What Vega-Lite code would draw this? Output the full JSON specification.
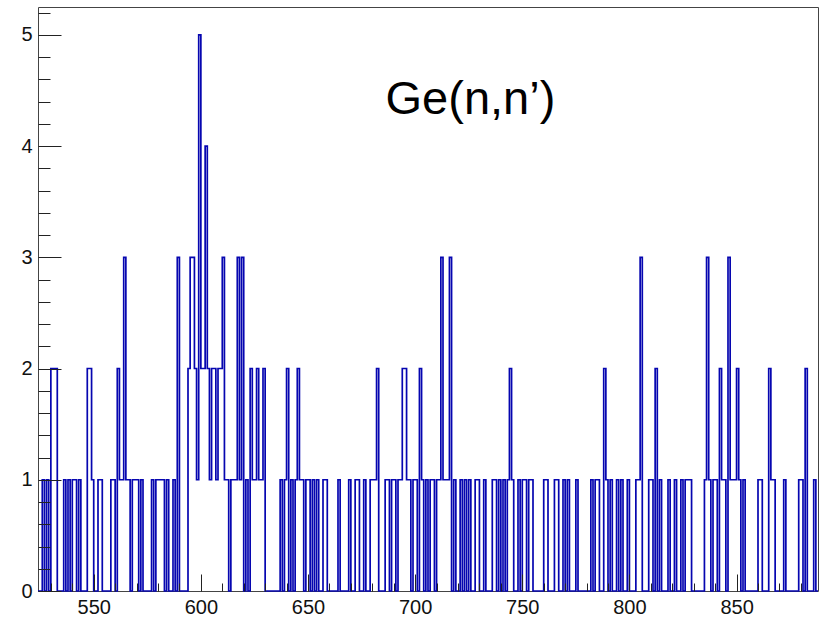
{
  "$schema": "https://vega.github.io/schema/vega-lite/v6.json",
  "width": 780,
  "height": 584,
  "autosize": {"type": "none"},
  "padding": {"left": 38, "top": 7, "right": 6, "bottom": 26},
  "background": "white",
  "config": {"view": {"stroke": "#444", "strokeWidth": 1}},
  "datasets": {
    "hist": [
      {"b":524,"c":0},{"b":525,"c":0},{"b":526,"c":1},{"b":527,"c":0},{"b":528,"c":1},{"b":529,"c":0},{"b":530,"c":2},{"b":531,"c":2},{"b":532,"c":2},{"b":533,"c":0},
      {"b":534,"c":0},{"b":535,"c":0},{"b":536,"c":1},{"b":537,"c":0},{"b":538,"c":1},{"b":539,"c":0},{"b":540,"c":1},{"b":541,"c":1},{"b":542,"c":0},{"b":543,"c":1},
      {"b":544,"c":0},{"b":545,"c":0},{"b":546,"c":0},{"b":547,"c":2},{"b":548,"c":2},{"b":549,"c":1},{"b":550,"c":0},{"b":551,"c":0},{"b":552,"c":1},{"b":553,"c":1},
      {"b":554,"c":0},{"b":555,"c":0},{"b":556,"c":0},{"b":557,"c":0},{"b":558,"c":1},{"b":559,"c":1},{"b":560,"c":0},{"b":561,"c":2},{"b":562,"c":1},{"b":563,"c":1},
      {"b":564,"c":3},{"b":565,"c":1},{"b":566,"c":1},{"b":567,"c":0},{"b":568,"c":1},{"b":569,"c":1},{"b":570,"c":1},{"b":571,"c":0},{"b":572,"c":1},{"b":573,"c":0},
      {"b":574,"c":0},{"b":575,"c":0},{"b":576,"c":0},{"b":577,"c":1},{"b":578,"c":0},{"b":579,"c":1},{"b":580,"c":1},{"b":581,"c":1},{"b":582,"c":1},{"b":583,"c":0},
      {"b":584,"c":1},{"b":585,"c":0},{"b":586,"c":0},{"b":587,"c":1},{"b":588,"c":0},{"b":589,"c":3},{"b":590,"c":0},{"b":591,"c":0},{"b":592,"c":0},{"b":593,"c":0},
      {"b":594,"c":2},{"b":595,"c":3},{"b":596,"c":3},{"b":597,"c":2},{"b":598,"c":1},{"b":599,"c":5},{"b":600,"c":2},{"b":601,"c":2},{"b":602,"c":4},{"b":603,"c":2},
      {"b":604,"c":1},{"b":605,"c":2},{"b":606,"c":2},{"b":607,"c":1},{"b":608,"c":2},{"b":609,"c":2},{"b":610,"c":3},{"b":611,"c":1},{"b":612,"c":1},{"b":613,"c":0},
      {"b":614,"c":1},{"b":615,"c":1},{"b":616,"c":1},{"b":617,"c":3},{"b":618,"c":1},{"b":619,"c":3},{"b":620,"c":0},{"b":621,"c":1},{"b":622,"c":0},{"b":623,"c":2},
      {"b":624,"c":1},{"b":625,"c":1},{"b":626,"c":2},{"b":627,"c":1},{"b":628,"c":1},{"b":629,"c":2},{"b":630,"c":0},{"b":631,"c":0},{"b":632,"c":0},{"b":633,"c":0},
      {"b":634,"c":0},{"b":635,"c":0},{"b":636,"c":0},{"b":637,"c":1},{"b":638,"c":0},{"b":639,"c":1},{"b":640,"c":2},{"b":641,"c":0},{"b":642,"c":1},{"b":643,"c":0},
      {"b":644,"c":1},{"b":645,"c":2},{"b":646,"c":1},{"b":647,"c":1},{"b":648,"c":0},{"b":649,"c":1},{"b":650,"c":1},{"b":651,"c":0},{"b":652,"c":1},{"b":653,"c":0},
      {"b":654,"c":1},{"b":655,"c":0},{"b":656,"c":0},{"b":657,"c":1},{"b":658,"c":1},{"b":659,"c":0},{"b":660,"c":0},{"b":661,"c":0},{"b":662,"c":0},{"b":663,"c":0},
      {"b":664,"c":1},{"b":665,"c":0},{"b":666,"c":0},{"b":667,"c":0},{"b":668,"c":0},{"b":669,"c":1},{"b":670,"c":0},{"b":671,"c":0},{"b":672,"c":1},{"b":673,"c":1},
      {"b":674,"c":0},{"b":675,"c":0},{"b":676,"c":1},{"b":677,"c":0},{"b":678,"c":0},{"b":679,"c":1},{"b":680,"c":1},{"b":681,"c":1},{"b":682,"c":2},{"b":683,"c":0},
      {"b":684,"c":0},{"b":685,"c":0},{"b":686,"c":1},{"b":687,"c":1},{"b":688,"c":0},{"b":689,"c":1},{"b":690,"c":1},{"b":691,"c":0},{"b":692,"c":1},{"b":693,"c":1},
      {"b":694,"c":2},{"b":695,"c":2},{"b":696,"c":1},{"b":697,"c":1},{"b":698,"c":0},{"b":699,"c":1},{"b":700,"c":1},{"b":701,"c":0},{"b":702,"c":2},{"b":703,"c":1},
      {"b":704,"c":0},{"b":705,"c":1},{"b":706,"c":0},{"b":707,"c":1},{"b":708,"c":1},{"b":709,"c":0},{"b":710,"c":1},{"b":711,"c":1},{"b":712,"c":3},{"b":713,"c":1},
      {"b":714,"c":1},{"b":715,"c":1},{"b":716,"c":3},{"b":717,"c":0},{"b":718,"c":1},{"b":719,"c":0},{"b":720,"c":0},{"b":721,"c":1},{"b":722,"c":0},{"b":723,"c":1},
      {"b":724,"c":0},{"b":725,"c":1},{"b":726,"c":0},{"b":727,"c":0},{"b":728,"c":1},{"b":729,"c":1},{"b":730,"c":0},{"b":731,"c":0},{"b":732,"c":1},{"b":733,"c":0},
      {"b":734,"c":0},{"b":735,"c":0},{"b":736,"c":1},{"b":737,"c":1},{"b":738,"c":0},{"b":739,"c":1},{"b":740,"c":0},{"b":741,"c":1},{"b":742,"c":0},{"b":743,"c":1},
      {"b":744,"c":2},{"b":745,"c":1},{"b":746,"c":0},{"b":747,"c":0},{"b":748,"c":1},{"b":749,"c":0},{"b":750,"c":1},{"b":751,"c":1},{"b":752,"c":0},{"b":753,"c":1},
      {"b":754,"c":1},{"b":755,"c":0},{"b":756,"c":0},{"b":757,"c":0},{"b":758,"c":0},{"b":759,"c":0},{"b":760,"c":1},{"b":761,"c":1},{"b":762,"c":0},{"b":763,"c":0},
      {"b":764,"c":0},{"b":765,"c":1},{"b":766,"c":1},{"b":767,"c":0},{"b":768,"c":0},{"b":769,"c":1},{"b":770,"c":0},{"b":771,"c":1},{"b":772,"c":0},{"b":773,"c":0},
      {"b":774,"c":0},{"b":775,"c":1},{"b":776,"c":0},{"b":777,"c":0},{"b":778,"c":0},{"b":779,"c":0},{"b":780,"c":0},{"b":781,"c":0},{"b":782,"c":1},{"b":783,"c":0},
      {"b":784,"c":1},{"b":785,"c":1},{"b":786,"c":0},{"b":787,"c":0},{"b":788,"c":2},{"b":789,"c":1},{"b":790,"c":0},{"b":791,"c":1},{"b":792,"c":0},{"b":793,"c":0},
      {"b":794,"c":1},{"b":795,"c":0},{"b":796,"c":1},{"b":797,"c":0},{"b":798,"c":0},{"b":799,"c":1},{"b":800,"c":0},{"b":801,"c":0},{"b":802,"c":0},{"b":803,"c":1},
      {"b":804,"c":1},{"b":805,"c":3},{"b":806,"c":0},{"b":807,"c":0},{"b":808,"c":0},{"b":809,"c":1},{"b":810,"c":1},{"b":811,"c":0},{"b":812,"c":2},{"b":813,"c":0},
      {"b":814,"c":1},{"b":815,"c":0},{"b":816,"c":0},{"b":817,"c":0},{"b":818,"c":1},{"b":819,"c":0},{"b":820,"c":0},{"b":821,"c":1},{"b":822,"c":0},{"b":823,"c":0},
      {"b":824,"c":1},{"b":825,"c":0},{"b":826,"c":1},{"b":827,"c":1},{"b":828,"c":1},{"b":829,"c":0},{"b":830,"c":0},{"b":831,"c":0},{"b":832,"c":0},{"b":833,"c":0},
      {"b":834,"c":0},{"b":835,"c":1},{"b":836,"c":3},{"b":837,"c":1},{"b":838,"c":0},{"b":839,"c":1},{"b":840,"c":1},{"b":841,"c":0},{"b":842,"c":2},{"b":843,"c":1},
      {"b":844,"c":1},{"b":845,"c":0},{"b":846,"c":3},{"b":847,"c":1},{"b":848,"c":1},{"b":849,"c":1},{"b":850,"c":2},{"b":851,"c":1},{"b":852,"c":0},{"b":853,"c":1},
      {"b":854,"c":0},{"b":855,"c":0},{"b":856,"c":0},{"b":857,"c":0},{"b":858,"c":0},{"b":859,"c":0},{"b":860,"c":1},{"b":861,"c":1},{"b":862,"c":0},{"b":863,"c":0},
      {"b":864,"c":0},{"b":865,"c":2},{"b":866,"c":1},{"b":867,"c":1},{"b":868,"c":0},{"b":869,"c":0},{"b":870,"c":0},{"b":871,"c":0},{"b":872,"c":1},{"b":873,"c":0},
      {"b":874,"c":0},{"b":875,"c":0},{"b":876,"c":0},{"b":877,"c":0},{"b":878,"c":0},{"b":879,"c":1},{"b":880,"c":1},{"b":881,"c":0},{"b":882,"c":2},{"b":883,"c":0},
      {"b":884,"c":0},{"b":885,"c":0},{"b":886,"c":1},{"b":887,"c":0},{"b":888,"c":0}
    ],
    "label": [{"t": "Ge(n,n’)", "x": 725.8, "y": 4.41}]
  },
  "resolve": {"axis": {"x": "independent", "y": "independent"}},
  "layer": [
    {
      "data": {"name": "hist"},
      "mark": {"type": "line", "interpolate": "step-after", "color": "#0606b0", "strokeWidth": 1.7},
      "encoding": {
        "x": {
          "field": "b", "type": "quantitative",
          "scale": {"domain": [524, 888], "nice": false, "zero": false},
          "axis": {"orient": "bottom", "values": [550, 600, 650, 700, 750, 800, 850], "tickSize": -17, "labelPadding": 23,
                   "labelFontSize": 20, "labelFont": "Liberation Sans", "labelColor": "#111", "domain": false, "grid": false,
                   "tickColor": "#222", "title": null, "labelFlush": false, "labelOverlap": false, "zindex": 1}
        },
        "y": {
          "field": "c", "type": "quantitative",
          "scale": {"domain": [0, 5.25], "nice": false},
          "axis": {"orient": "left", "values": [0, 1, 2, 3, 4, 5], "tickSize": -23, "labelPadding": 29,
                   "labelFontSize": 20, "labelFont": "Liberation Sans", "labelColor": "#111", "domain": false, "grid": false,
                   "tickColor": "#222", "title": null, "labelFlush": false, "labelOverlap": false, "zindex": 1}
        }
      }
    },
    {
      "data": {"name": "label"},
      "mark": {"type": "text", "font": "Liberation Sans", "fontSize": 47, "align": "center", "baseline": "middle", "color": "#000"},
      "encoding": {
        "text": {"field": "t"},
        "x": {
          "field": "x", "type": "quantitative",
          "scale": {"domain": [524, 888], "nice": false, "zero": false},
          "axis": {"orient": "bottom", "values": [530, 540, 560, 570, 580, 590, 610, 620, 630, 640, 660, 670, 680, 690, 710, 720, 730, 740, 760, 770, 780, 790, 810, 820, 830, 840, 860, 870, 880],
                   "tickSize": -8, "labels": false, "domain": false, "grid": false, "tickColor": "#222", "title": null, "zindex": 1}
        },
        "y": {
          "field": "y", "type": "quantitative",
          "scale": {"domain": [0, 5.25], "nice": false},
          "axis": {"orient": "left", "values": [0.2, 0.4, 0.6, 0.8, 1.2, 1.4, 1.6, 1.8, 2.2, 2.4, 2.6, 2.8, 3.2, 3.4, 3.6, 3.8, 4.2, 4.4, 4.6, 4.8, 5.2],
                   "tickSize": -12, "labels": false, "domain": false, "grid": false, "tickColor": "#222", "title": null, "zindex": 1}
        }
      }
    }
  ]
}
